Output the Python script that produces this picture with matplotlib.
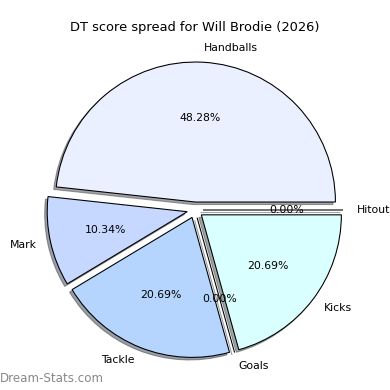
import matplotlib
matplotlib.use("Agg")
import matplotlib.pyplot as plt

categories = ["Handballs", "Mark", "Tackle", "Goals", "Kicks", "Hitout"]
scores = [28, 6, 12, 0, 12, 0]
colors = ["#eaf0ff", "#c6d8ff", "#b5d5ff", "#a8c8ff", "#d9ffff", "#e0f0ff"]
explode = [0.057] * len(categories)

fig = plt.figure(figsize=(3.9, 3.9), dpi=100)
ax = fig.add_axes([20/390, 5/390, 350/390, 350/390])
wedges, texts, autotexts = ax.pie(
    scores, labels=categories, colors=colors, explode=explode,
    autopct="%.2f%%", startangle=0, counterclock=True,
    shadow={"ox": -0.013, "oy": -0.013, "shade": 0.7},
    wedgeprops=dict(edgecolor="black", linewidth=0.78),
    textprops=dict(fontsize=7.8),
)
ax.set_title("DT score spread for Will Brodie (2026)", fontsize=9.36, pad=3)
fig.text(0.0, 5/390, "Dream-Stats.com", fontsize=8.6, color="#888888",
         ha="left", va="bottom")
fig.savefig("out.png", dpi=100)
